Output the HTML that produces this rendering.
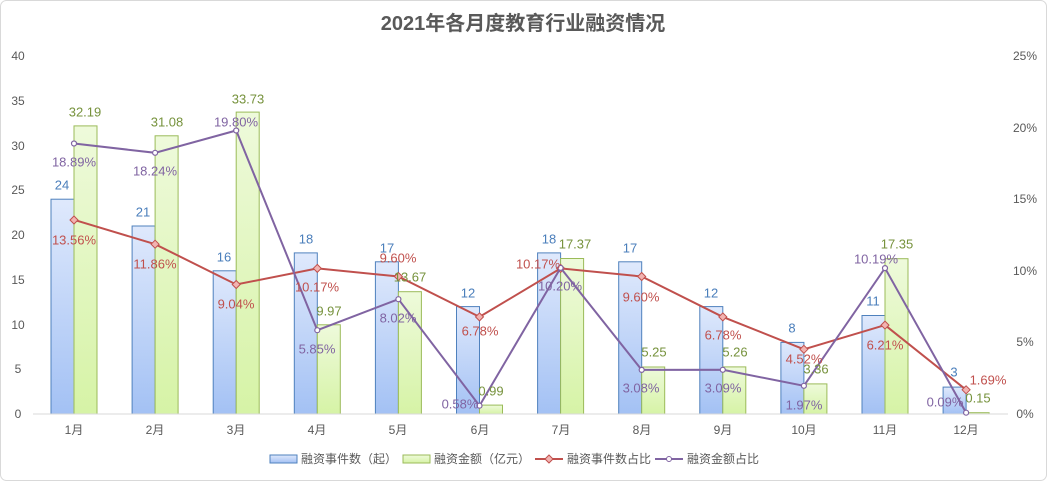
<!DOCTYPE html>
<html><head><meta charset="utf-8"><style>
body{margin:0;background:#fff}
svg text{font-family:"Liberation Sans","Noto Sans CJK SC",sans-serif}
</style></head><body>
<svg width="1047" height="481" xmlns="http://www.w3.org/2000/svg">
<defs>
<linearGradient id="gb" x1="0" y1="0" x2="0" y2="1"><stop offset="0" stop-color="#dfe9fc"/><stop offset="1" stop-color="#a3c1f4"/></linearGradient>
<linearGradient id="gg" x1="0" y1="0" x2="0" y2="1"><stop offset="0" stop-color="#eefadb"/><stop offset="1" stop-color="#d6f3a6"/></linearGradient>
</defs>
<rect x="0.5" y="0.5" width="1046" height="480" rx="6" fill="#fff" stroke="#d9d9d9"/>
<text x="523" y="30" text-anchor="middle" font-size="20" font-weight="bold" fill="#595959">2021年各月度教育行业融资情况</text>
<g font-size="12" fill="#595959" text-anchor="middle" dominant-baseline="central">
<text x="18" y="414">0</text><text x="18" y="369">5</text><text x="18" y="325">10</text><text x="18" y="280">15</text><text x="18" y="235">20</text><text x="18" y="190">25</text><text x="18" y="146">30</text><text x="18" y="101">35</text><text x="18" y="56">40</text>
<text x="1025" y="414">0%</text><text x="1025" y="342">5%</text><text x="1025" y="271">10%</text><text x="1025" y="199">15%</text><text x="1025" y="128">20%</text><text x="1025" y="56">25%</text>
<text x="74" y="430">1月</text><text x="155" y="430">2月</text><text x="236" y="430">3月</text><text x="317" y="430">4月</text><text x="398" y="430">5月</text><text x="480" y="430">6月</text><text x="561" y="430">7月</text><text x="642" y="430">8月</text><text x="723" y="430">9月</text><text x="804" y="430">10月</text><text x="885" y="430">11月</text><text x="966" y="430">12月</text>
</g>
<g stroke="#4f81bd" stroke-width="1" fill="url(#gb)">
<rect x="51" y="199.2" width="23" height="214.8"/><rect x="132.1" y="226" width="23" height="188"/><rect x="213.2" y="270.8" width="23" height="143.2"/><rect x="294.3" y="252.9" width="23" height="161.1"/><rect x="375.4" y="261.8" width="23" height="152.2"/><rect x="456.5" y="306.6" width="23" height="107.4"/><rect x="537.6" y="252.9" width="23" height="161.1"/><rect x="618.7" y="261.8" width="23" height="152.2"/><rect x="699.8" y="306.6" width="23" height="107.4"/><rect x="780.9" y="342.4" width="23" height="71.6"/><rect x="862" y="315.5" width="23" height="98.5"/><rect x="943.1" y="387.1" width="23" height="26.9"/>
</g>
<g stroke="#9bbb59" stroke-width="1" fill="url(#gg)">
<rect x="74" y="125.9" width="23" height="288.1"/><rect x="155.1" y="135.8" width="23" height="278.2"/><rect x="236.2" y="112.1" width="23" height="301.9"/><rect x="317.3" y="324.8" width="23" height="89.2"/><rect x="398.4" y="291.7" width="23" height="122.3"/><rect x="479.5" y="405.1" width="23" height="8.9"/><rect x="560.6" y="258.5" width="23" height="155.5"/><rect x="641.7" y="367" width="23" height="47"/><rect x="722.8" y="366.9" width="23" height="47.1"/><rect x="803.9" y="383.9" width="23" height="30.1"/><rect x="885" y="258.7" width="23" height="155.3"/><rect x="966.1" y="412.7" width="23" height="1.3"/>
</g>
<line x1="33" y1="414" x2="1008" y2="414" stroke="#d9d9d9"/>
<polyline fill="none" stroke="#c0504d" stroke-width="2" points="74,219.8 155.1,244.2 236.2,284.5 317.3,268.4 398.4,276.5 479.5,316.9 560.6,268.4 641.7,276.5 722.8,316.9 803.9,349.3 885,325.1 966.1,389.8"/>
<g fill="#f2b3b1" stroke="#c0504d" stroke-width="1">
<path d="M74 216l4 4-4 4-4-4z"/><path d="M155.1 240.2l4 4-4 4-4-4z"/><path d="M236.2 280.5l4 4-4 4-4-4z"/><path d="M317.3 264.4l4 4-4 4-4-4z"/><path d="M398.4 272.5l4 4-4 4-4-4z"/><path d="M479.5 312.9l4 4-4 4-4-4z"/><path d="M560.6 264.4l4 4-4 4-4-4z"/><path d="M641.7 272.5l4 4-4 4-4-4z"/><path d="M722.8 312.9l4 4-4 4-4-4z"/><path d="M803.9 345.3l4 4-4 4-4-4z"/><path d="M885 321.1l4 4-4 4-4-4z"/><path d="M966.1 385.8l4 4-4 4-4-4z"/>
</g>
<polyline fill="none" stroke="#8064a2" stroke-width="2" points="74,143.5 155.1,152.8 236.2,130.5 317.3,330.2 398.4,299.2 479.5,405.7 560.6,267.9 641.7,369.9 722.8,369.8 803.9,385.8 885,268.1 966.1,412.7"/>
<g fill="#fff" stroke="#8064a2" stroke-width="1.2">
<circle cx="74" cy="143.5" r="2.5"/><circle cx="155.1" cy="152.8" r="2.5"/><circle cx="236.2" cy="130.5" r="2.5"/><circle cx="317.3" cy="330.2" r="2.5"/><circle cx="398.4" cy="299.2" r="2.5"/><circle cx="479.5" cy="405.7" r="2.5"/><circle cx="560.6" cy="267.9" r="2.5"/><circle cx="641.7" cy="369.9" r="2.5"/><circle cx="722.8" cy="369.8" r="2.5"/><circle cx="803.9" cy="385.8" r="2.5"/><circle cx="885" cy="268.1" r="2.5"/><circle cx="966.1" cy="412.7" r="2.5"/>
</g>
<g font-size="13" text-anchor="middle" dominant-baseline="central">
<g fill="#4a7ebb">
<text x="62" y="185">24</text><text x="143" y="212">21</text><text x="224" y="257">16</text><text x="306" y="239">18</text><text x="387" y="248">17</text><text x="468" y="293">12</text><text x="549" y="239">18</text><text x="630" y="248">17</text><text x="711" y="293">12</text><text x="792" y="328">8</text><text x="873" y="301">11</text><text x="954" y="372">3</text>
</g>
<g fill="#76923c">
<text x="85" y="112">32.19</text><text x="167" y="122">31.08</text><text x="248" y="99">33.73</text><text x="329" y="311">9.97</text><text x="410" y="277">13.67</text><text x="491" y="391">0.99</text><text x="575" y="244">17.37</text><text x="654" y="352">5.25</text><text x="735" y="352">5.26</text><text x="816" y="369">3.36</text><text x="897" y="244">17.35</text><text x="978" y="398">0.15</text>
</g>
<g fill="#c0504d">
<text x="74" y="240">13.56%</text><text x="155" y="264">11.86%</text><text x="236" y="304">9.04%</text><text x="317" y="287">10.17%</text><text x="398" y="258">9.60%</text><text x="480" y="331">6.78%</text><text x="538" y="264">10.17%</text><text x="641" y="297">9.60%</text><text x="723" y="335">6.78%</text><text x="804" y="359">4.52%</text><text x="885" y="345">6.21%</text><text x="988" y="380">1.69%</text>
</g>
<g fill="#8064a2">
<text x="74" y="162">18.89%</text><text x="155" y="171">18.24%</text><text x="236" y="122">19.80%</text><text x="317" y="349">5.85%</text><text x="398" y="318">8.02%</text><text x="460" y="404">0.58%</text><text x="560" y="286">10.20%</text><text x="641" y="388">3.08%</text><text x="723" y="388">3.09%</text><text x="804" y="405">1.97%</text><text x="876" y="259">10.19%</text><text x="945" y="402">0.09%</text>
</g>
</g>
<g font-size="12" fill="#595959" dominant-baseline="central">
<rect x="270" y="455" width="27" height="8" fill="url(#gb)" stroke="#4f81bd"/><text x="301" y="459">融资事件数（起）</text>
<rect x="403" y="455" width="27" height="8" fill="url(#gg)" stroke="#9bbb59"/><text x="434" y="459">融资金额（亿元）</text>
<line x1="535" y1="459" x2="563" y2="459" stroke="#c0504d" stroke-width="2"/><path d="M549 455l4 4-4 4-4-4z" fill="#f2b3b1" stroke="#c0504d"/><text x="567" y="459">融资事件数占比</text>
<line x1="655" y1="459" x2="683" y2="459" stroke="#8064a2" stroke-width="2"/><circle cx="669" cy="459" r="2.5" fill="#fff" stroke="#8064a2"/><text x="687" y="459">融资金额占比</text>
</g>
</svg>
</body></html>
